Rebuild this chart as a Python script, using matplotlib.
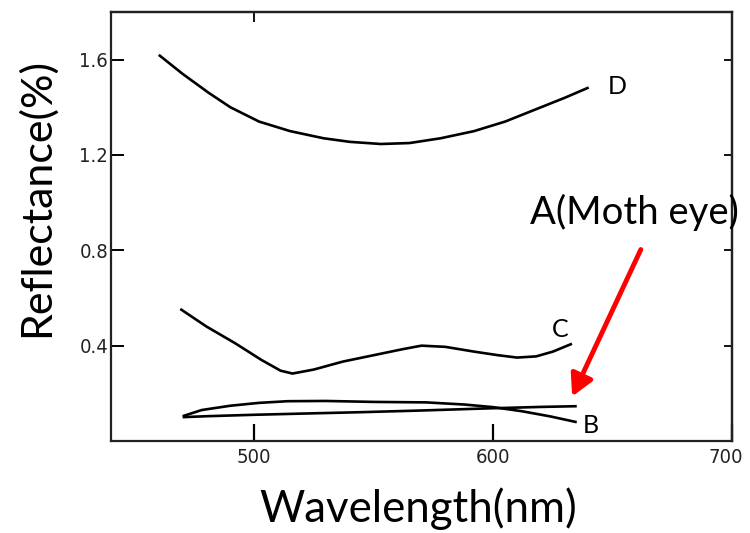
import matplotlib
matplotlib.use("Agg")
import matplotlib.pyplot as plt
from matplotlib import font_manager
from matplotlib.transforms import ScaledTranslation

# reflectance spectra, read point by point (wavelength nm, reflectance %)
d_wl = [460, 470, 481, 490, 502, 515, 529, 540, 553, 565, 578, 592, 605, 620, 630, 640]
d_r = [1.62, 1.54, 1.46, 1.40, 1.34, 1.30, 1.27, 1.255, 1.246, 1.25, 1.27, 1.30, 1.34, 1.40, 1.44, 1.483]

c_wl = [469, 480, 492, 503, 511, 516, 525, 537, 550, 562, 570, 580, 592, 602, 610, 618, 625, 633]
c_r = [0.554, 0.48, 0.41, 0.34, 0.295, 0.283, 0.30, 0.333, 0.36, 0.385, 0.40, 0.395, 0.375, 0.36, 0.35, 0.355, 0.375, 0.408]

b_wl = [470, 478, 490, 502, 514, 530, 550, 572, 588, 600, 612, 624, 635]
b_r = [0.104, 0.13, 0.148, 0.16, 0.167, 0.168, 0.164, 0.162, 0.153, 0.142, 0.125, 0.103, 0.079]

a_wl = [470, 480, 500, 520, 545, 570, 600, 620, 635]
a_r = [0.10, 0.104, 0.11, 0.115, 0.121, 0.128, 0.1375, 0.143, 0.146]

curve_labels = ["D", "C", "B"]
label_pos = [(652, 1.486), (628, 0.466), (641, 0.067)]

y_ticks = [0.4, 0.8, 1.2, 1.6]
x_ticks = [500, 600, 700]

# narrow face for the tick numbers if there is one
try:
    font_manager.findfont(font_manager.FontProperties(family="Liberation Sans Narrow"),
                          fallback_to_default=False)
    tick_props = dict(family="Liberation Sans Narrow", fontsize=16.5)
except ValueError:
    tick_props = dict(family="DejaVu Sans", stretch="condensed", fontsize=14.5)

fig = plt.figure(figsize=(7.5, 5.33), dpi=100)
ax = fig.add_axes([0.148, 0.1726, 0.828, 0.805])

for wl, r in [(d_wl, d_r), (c_wl, c_r), (b_wl, b_r), (a_wl, a_r)]:
    ax.plot(wl, r, color="black", lw=1.9, solid_capstyle="butt")

ax.set_xlim(440, 700)
ax.set_ylim(0, 1.8)

ax.set_xticks(x_ticks)
ax.set_xticklabels([str(t) for t in x_ticks])
ax.set_yticks(y_ticks)
ax.set_yticklabels([f"{t:.1f}" for t in y_ticks])

ax.tick_params(axis="x", direction="in", length=12, width=1.6, pad=5)
ax.tick_params(axis="y", direction="in", length=9, width=1.4, pad=2)
for lab in ax.get_xticklabels() + ax.get_yticklabels():
    lab.set_family(tick_props["family"])
    lab.set_fontsize(tick_props["fontsize"])
    if "stretch" in tick_props:
        lab.set_stretch(tick_props["stretch"])
    lab.set_color("#222222")
# keep "700" inside the figure edge
last = ax.get_xticklabels()[-1]
last.set_transform(last.get_transform() + ScaledTranslation(-6 / 100, 0, fig.dpi_scale_trans))

# short inward ticks on the right and top frame
right = ax.secondary_yaxis("right")
right.set_yticks(y_ticks)
right.set_yticklabels([])
right.tick_params(direction="in", length=6, width=1.3)
top = ax.secondary_xaxis("top")
top.set_xticks([500])
top.set_xticklabels([])
top.tick_params(direction="in", length=7, width=1.3)

for s in list(ax.spines.values()) + [right.spines["right"], top.spines["top"]]:
    s.set_linewidth(1.6)
    s.set_color("#222222")

for name, (x, y) in zip(curve_labels, label_pos):
    ax.text(x, y, name, fontsize=18, family="Lato", ha="center", va="center")

fig.text(0.048, 0.630, "Reflectance(%)", rotation=90, fontsize=31, family="Lato",
         ha="center", va="center")
fig.text(0.557, 0.045, "Wavelength(nm)", fontsize=31.5, family="Lato",
         ha="center", va="center")

fig.text(0.846, 0.602, "A(Moth eye)", fontsize=27.5, family="Lato",
         ha="center", va="center", zorder=5)
fig.patches.append(matplotlib.patches.FancyArrowPatch(
    (642 / 750, 1 - 247 / 533), (571 / 750, 1 - 399 / 533),
    transform=fig.transFigure, arrowstyle="-|>,head_length=13,head_width=7",
    mutation_scale=1, color="#ff0000", lw=3.5))

fig.savefig("out.png", dpi=100)
